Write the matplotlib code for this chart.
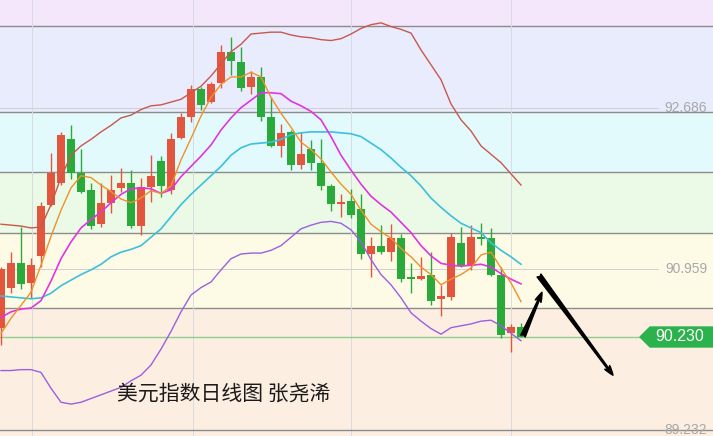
import matplotlib
matplotlib.use('Agg')
import matplotlib.pyplot as plt
import numpy as np

# daily candles (USD index), red = up, green = down
opens  = [90.33, 90.76, 91.02, 90.81, 91.10, 91.65, 91.88, 92.35, 91.99, 91.81,
          91.44, 91.67, 91.83, 91.88, 91.42, 91.84, 92.12, 91.81, 92.36, 92.59,
          92.89, 92.75, 92.96, 93.29, 93.18, 92.91, 93.02, 92.59, 92.28, 92.43,
          92.08, 92.25, 92.10, 91.85, 91.66, 91.69, 91.60, 91.12, 91.21, 91.14,
          91.29, 90.87, 90.85, 90.90, 90.64, 90.66, 91.24, 90.99, 91.30, 91.29,
          90.90, 90.27, 90.34]
closes = [90.96, 91.02, 90.80, 91.00, 91.63, 91.99, 92.40, 91.99, 91.79, 91.42,
          91.67, 91.81, 91.88, 91.42, 91.84, 91.96, 91.85, 92.35, 92.59, 92.89,
          92.72, 92.94, 93.29, 93.19, 92.90, 93.02, 92.59, 92.28, 92.42, 92.08,
          92.19, 92.10, 91.85, 91.66, 91.68, 91.54, 91.12, 91.21, 91.14, 91.29,
          90.85, 90.85, 90.88, 90.62, 90.67, 91.30, 90.99, 91.30, 91.28, 90.90,
          90.25, 90.34, 90.23]
highs  = [90.98, 91.14, 91.41, 91.08, 91.68, 92.20, 92.43, 92.50, 92.25, 91.88,
          91.88, 91.97, 92.04, 92.02, 91.94, 92.18, 92.17, 92.42, 92.63, 92.93,
          92.91, 92.97, 93.36, 93.45, 93.34, 93.08, 93.13, 92.80, 92.52, 92.45,
          92.43, 92.34, 92.35, 91.87, 91.76, 91.82, 91.76, 91.30, 91.43, 91.44,
          91.34, 91.02, 91.09, 91.14, 90.79, 91.35, 91.41, 91.43, 91.45, 91.40,
          90.98, 90.37, 90.38]
lows   = [90.14, 90.70, 90.75, 90.65, 90.98, 91.63, 91.86, 91.93, 91.78, 91.39,
          91.41, 91.56, 91.79, 91.40, 91.32, 91.68, 91.73, 91.76, 92.35, 92.54,
          92.67, 92.74, 92.90, 93.04, 92.87, 92.84, 92.55, 92.27, 92.16, 92.02,
          92.03, 92.02, 91.81, 91.58, 91.52, 91.51, 91.07, 90.87, 91.12, 91.04,
          90.82, 90.70, 90.84, 90.57, 90.45, 90.63, 90.98, 90.95, 91.22, 90.88,
          90.22, 90.07, 90.23]

# indicator lines
boll_upper = [91.44, 91.43, 91.42, 91.40, 91.41, 91.65, 91.94, 92.18, 92.28, 92.35,
              92.43, 92.50, 92.58, 92.61, 92.67, 92.71, 92.72, 92.75, 92.78, 92.85,
              92.92, 93.03, 93.16, 93.29, 93.37, 93.48, 93.49, 93.50, 93.50, 93.47,
              93.45, 93.44, 93.42, 93.41, 93.43, 93.48, 93.54, 93.58, 93.60, 93.56,
              93.53, 93.49, 93.31, 93.15, 92.99, 92.73, 92.56, 92.44, 92.28, 92.19,
              92.10, 91.98, 91.86]
boll_mid = [90.67, 90.66, 90.65, 90.64, 90.65, 90.70, 90.78, 90.84, 90.90, 90.95,
            91.01, 91.09, 91.14, 91.17, 91.21, 91.30, 91.39, 91.52, 91.65, 91.76,
            91.86, 91.96, 92.06, 92.18, 92.26, 92.30, 92.31, 92.32, 92.35, 92.40,
            92.42, 92.43, 92.43, 92.43, 92.42, 92.41, 92.38, 92.31, 92.24, 92.15,
            92.05, 91.96, 91.85, 91.72, 91.62, 91.53, 91.45, 91.40, 91.35, 91.24,
            91.16, 91.09, 91.01]
boll_lower = [89.87, 89.87, 89.88, 89.88, 89.85, 89.68, 89.53, 89.51, 89.53, 89.57,
              89.61, 89.65, 89.69, 89.76, 89.82, 89.93, 90.10, 90.29, 90.50, 90.68,
              90.76, 90.82, 90.95, 91.07, 91.12, 91.13, 91.13, 91.16, 91.21, 91.30,
              91.39, 91.43, 91.46, 91.47, 91.45, 91.38, 91.25, 91.06, 90.90, 90.79,
              90.65, 90.49, 90.40, 90.32, 90.26, 90.33, 90.35, 90.37, 90.40, 90.41,
              90.35, 90.27, 90.19]
ma10 = [90.44, 90.50, 90.53, 90.54, 90.62, 90.83, 91.07, 91.25, 91.40, 91.49,
        91.57, 91.67, 91.76, 91.82, 91.83, 91.82, 91.77, 91.81, 91.95, 92.06,
        92.17, 92.29, 92.45, 92.58, 92.69, 92.77, 92.85, 92.85, 92.84, 92.76,
        92.71, 92.65, 92.56, 92.38, 92.18, 92.02, 91.87, 91.74, 91.65, 91.57,
        91.46, 91.35, 91.21, 91.10, 91.02, 91.00, 90.99, 91.00, 91.01, 90.98,
        90.91, 90.85, 90.80]
ma5 = [90.27, 90.43, 90.57, 90.71, 91.00, 91.31, 91.59, 91.83, 91.96, 91.94,
       91.86, 91.79, 91.71, 91.67, 91.72, 91.80, 91.77, 91.85, 92.13, 92.36,
       92.60, 92.80, 92.94, 93.02, 93.02, 93.07, 93.02, 92.80, 92.63, 92.48,
       92.32, 92.24, 92.14, 92.00, 91.87, 91.76, 91.59, 91.44, 91.36, 91.29,
       91.18, 91.09, 90.98, 90.90, 90.79, 90.85, 90.90, 90.97, 91.11, 91.14,
       90.97, 90.81, 90.61]

# background zones and price marks
zone_edges = [89.0, 90.54, 91.35, 92.00, 92.64, 93.57, 94.0]
zone_colors = ['#fdeee2', '#fdfbe6', '#ebfae6', '#e3fafc', '#e9ecfc', '#f4e6fb']
price_marks = [92.686, 90.959, 89.232]
last_price = 90.230
vgrid = [3.1, 19.2, 35.0, 51.0]

title = '美元指数日线图 张尧浠'
arrow_up = [(52.2, 90.24), (54.1, 90.71)]
arrow_down = [(53.8, 90.89), (61.2, 89.82)]

fig = plt.figure(figsize=(7.13, 4.36), dpi=100)
ax = fig.add_axes([0, 0, 1, 1])
ax.set_xlim(-0.1, 71.2)
ax.set_ylim(89.168, 93.845)
ax.axis('off')

for k in range(len(zone_colors)):
    ax.axhspan(zone_edges[k], zone_edges[k + 1], color=zone_colors[k], zorder=0)
for e in zone_edges[1:-1]:
    ax.axhline(e, color='#8c8c8c', lw=1, zorder=1)
for v in vgrid:
    ax.axvline(v, color='#dadae2', lw=0.7, zorder=1)

# price marks on the right
for p in price_marks[:2]:
    ax.plot([-0.1, 65.7], [p, p], color='#d0d0d0', lw=0.7, zorder=1)
    ax.text(70.6, p, '%.3f' % p, ha='right', va='center', fontsize=10,
            family='Liberation Sans', color='#a8a8a8', zorder=5)
ax.axhline(price_marks[2], color='#8c8c8c', lw=1, zorder=1)
ax.text(70.6, price_marks[2] + 0.005, '%.3f' % price_marks[2], ha='right', va='center',
        fontsize=10, family='Liberation Sans', color='#a8a8a8', zorder=5)

x = np.arange(len(opens))
o = np.array(opens)
c = np.array(closes)
up = c >= o
cols = np.where(up, '#e4553e', '#2aaa3a')
ax.vlines(x, lows, highs, colors=cols, lw=1, zorder=2)
body = np.maximum(np.abs(c - o), 0.02)
ax.bar(x, body, bottom=np.minimum(o, c), width=0.72, color=cols, zorder=3)

ax.plot(x, boll_upper, color='#c9574c', lw=1, zorder=4)
ax.plot(x, boll_mid, color='#3cc0dc', lw=1.2, zorder=4)
ax.plot(x, boll_lower, color='#9b5fe0', lw=1, zorder=4)
ax.plot(x, ma10, color='#e035e0', lw=1.2, zorder=4)
ax.plot(x, ma5, color='#f0902a', lw=1, zorder=4)

# last price line and tag
ax.axhline(last_price, color='#8fcf8f', lw=1, zorder=1)
tx = [63.9, 64.9, 71.2, 71.2, 64.9]
ty = [last_price, last_price + 0.107, last_price + 0.107, last_price - 0.107, last_price - 0.107]
ax.fill(tx, ty, color='#2bb24c', zorder=6, clip_on=False)
ax.text(67.9, last_price, '%.3f' % last_price, ha='center', va='center', fontsize=11.5,
        family='Liberation Sans', color='white', zorder=7)

for a in (arrow_up, arrow_down):
    ax.annotate('', xy=a[1], xytext=a[0],
                arrowprops=dict(arrowstyle='fancy,head_length=0.7,head_width=0.45,tail_width=0.35',
                                color='black', shrinkA=0, shrinkB=0), zorder=6)

ax.text(11.6, 89.62, title, ha='left', va='center', fontsize=15,
        family=['Noto Sans CJK SC', 'DejaVu Sans'], color='#1a1a1a', zorder=6)

fig.savefig('out.png', dpi=100)
